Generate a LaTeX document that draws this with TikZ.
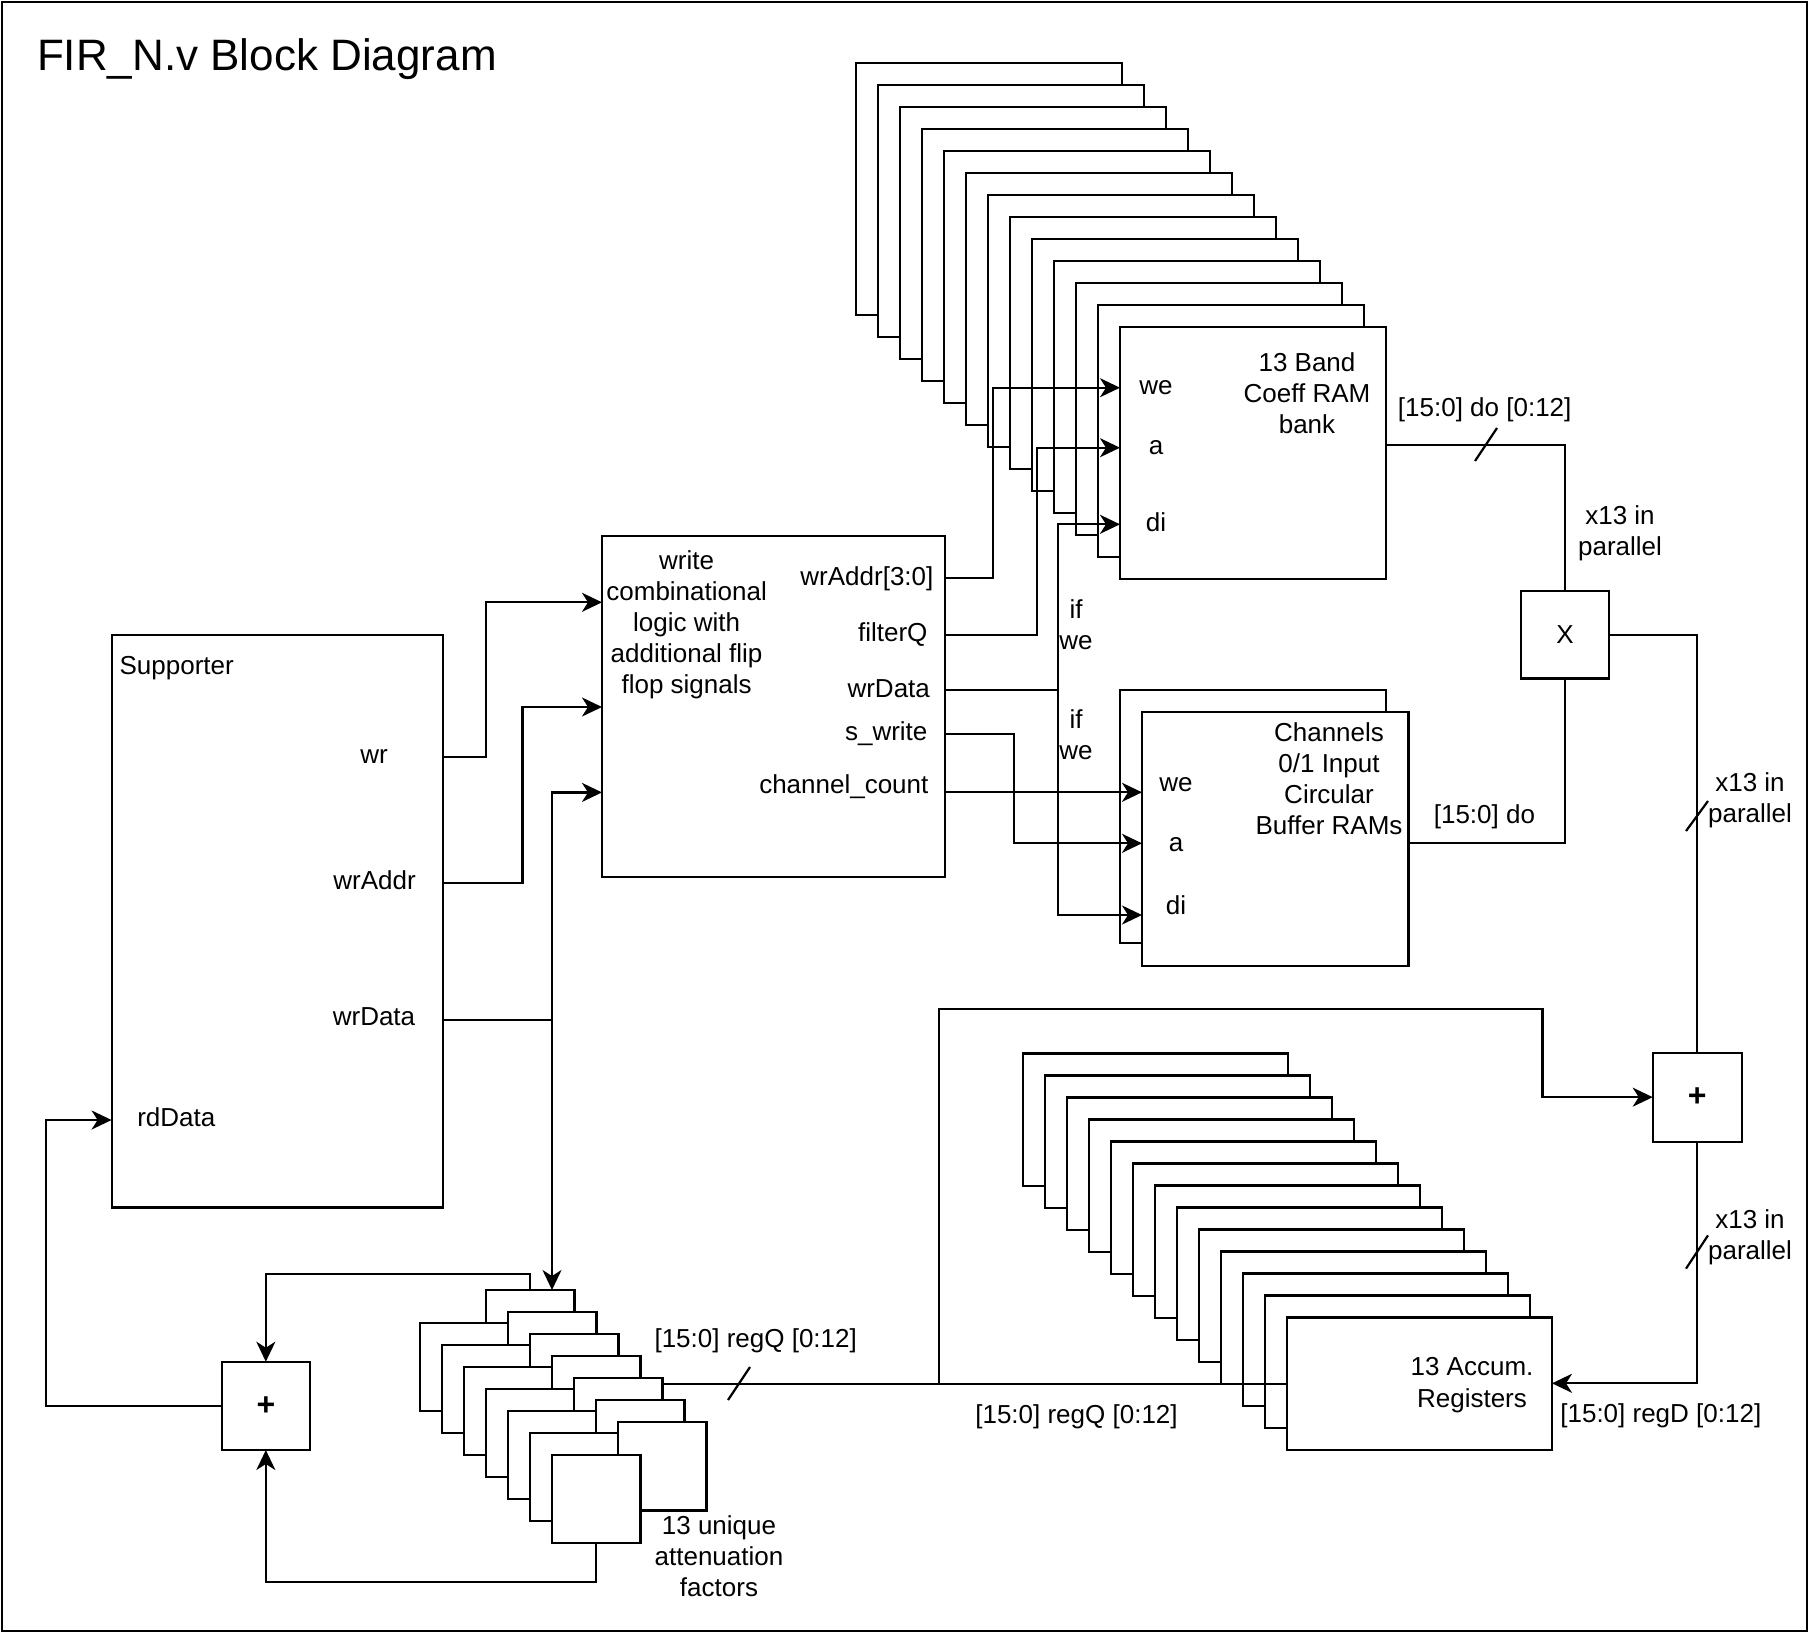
\documentclass[tikz,border=0pt]{standalone}
\usepackage{fontspec}
\setmainfont{Liberation Sans}
\usetikzlibrary{arrows.meta,fit}
\begin{document}
\begin{tikzpicture}[x=0.5pt,y=-0.5pt,line width=1.1pt,
  blk/.style={draw,fill=white,inner sep=0pt,outer sep=0pt},
  arr/.style={-{Stealth[length=10pt,width=9.5pt,inset=3pt]}},
  lbl/.style={font=\fontsize{13}{15.6}\selectfont,inner sep=0pt,text height=9.4pt,text depth=2.6pt},
  mlbl/.style={font=\fontsize{13}{15.6}\selectfont,inner sep=0pt,align=center},
  sym/.style={font=\fontsize{13}{15.6}\selectfont},
  bsym/.style={font=\fontsize{16}{18}\selectfont\bfseries}]
\useasboundingbox (0,0) rectangle (1810,1634);
\node[draw,fit={(2,2) (1807,1631)},inner sep=0pt,outer sep=0pt] (border) {};
\node[font=\fontsize{22}{26}\selectfont,anchor=base west,inner sep=0pt] (title) at (36,70) {FIR\_N.v Block Diagram};

% coefficient RAM stack
\foreach \i in {0,...,11} {
  \node[blk,fit={({856+22*\i},{63+22*\i}) ({1122+22*\i},{315+22*\i})}] (cf\i) {};
}
\node[blk,fit={(1120,327) (1386,579)}] (coeff) {};

% channel buffer RAMs
\node[blk,fit={(1120,690) (1386,943)}] (chb) {};
\node[blk,fit={(1142,712) (1408.5,966)}] (chan) {};

% accumulator stack
\foreach \i in {0,...,11} {
  \node[blk,fit={({1023+22*\i},{1053.5+22*\i}) ({1288+22*\i},{1186+22*\i})}] (ac\i) {};
}
\node[blk,fit={(1287,1317.5) (1552,1450)}] (acc) {};

% attenuation factors stack
\foreach \k in {0,...,6} {
  \node[blk,fit={({486+22*\k},{1290+22*\k}) ({574.5+22*\k},{1378.5+22*\k})}] (atA\k) {};
  \node[blk,fit={({420+22*\k},{1322.7+22*\k}) ({508.5+22*\k},{1411.2+22*\k})}] (atB\k) {};
}

% main blocks
\node[blk,fit={(111.6,635) (442.6,1207.4)}] (sup) {};
\node[blk,fit={(602,535.7) (944.7,877.3)}] (wl) {};
\node[blk,fit={(1520.7,591) (1609.3,678.4)}] (mul) {};
\node[blk,fit={(1652.7,1052.7) (1741.7,1141.6)}] (add) {};
\node[blk,fit={(221.7,1361.7) (310,1450)}] (add2) {};
\node[sym] (mulx) at (mul.center) {X};
\node[bsym] (addp) at (add.center) {+};
\node[bsym] (add2p) at (add2.center) {+};

% labels
\node[lbl,anchor=west] (lsup) at (118.5,668) {Supporter};
\node[lbl] (lwr) at (374,756.6) {wr};
\node[lbl] (lwra) at (374.5,883) {wrAddr};
\node[lbl] (lwrd) at (374,1019) {wrData};
\node[lbl] (lrd) at (176.3,1120) {rdData};
\node[mlbl] (lwl) at (686.6,624.7) {write\\combinational\\logic with\\additional flip\\flop signals};
\node[lbl,anchor=east] (lo1) at (934.5,578.5) {wrAddr[3:0]};
\node[lbl,anchor=east] (lo2) at (928.5,635) {filterQ};
\node[lbl,anchor=east] (lo3) at (931,690.5) {wrData};
\node[lbl,anchor=east] (lo4) at (928.5,734) {s\_write};
\node[lbl,anchor=east] (lo5) at (929.5,787) {channel\_count};
\node[mlbl] (lcf) at (1307,393) {13 Band\\Coeff RAM\\bank};
\node[lbl] (lcwe) at (1156,387.7) {we};
\node[lbl] (lca) at (1156,447.7) {a};
\node[lbl] (lcdi) at (1156,524.3) {di};
\node[mlbl] (lch) at (1329,778.5) {Channels\\0/1 Input\\Circular\\Buffer RAMs};
\node[lbl] (lhwe) at (1176,785) {we};
\node[lbl] (lha) at (1176,845) {a};
\node[lbl] (lhdi) at (1176,908) {di};
\node[mlbl] (lif1) at (1076,624.5) {if\\we};
\node[mlbl] (lif2) at (1076,734.5) {if\\we};
\node[lbl] (ldo1) at (1484.7,410) {[15:0] do [0:12]};
\node[mlbl] (lpar1) at (1620,533) {x13 in\\parallel};
\node[lbl] (ldo2) at (1484.4,816.5) {[15:0] do};
\node[mlbl] (lpar2) at (1750,800) {x13 in\\parallel};
\node[mlbl] (lpar3) at (1750,1237) {x13 in\\parallel};
\node[mlbl] (lacc) at (1472,1385) {13 Accum.\\Registers};
\node[lbl] (lrgd) at (1660.8,1415.7) {[15:0] regD [0:12]};
\node[lbl] (lrq2) at (1076.5,1416.7) {[15:0] regQ [0:12]};
\node[lbl] (lrq1) at (755.7,1340.7) {[15:0] regQ [0:12]};
\node[mlbl] (latt) at (719,1556) {13 unique\\attenuation\\factors};

% Supporter -> write logic
\draw[arr] (sup.east |- 0,756.6) -| (486,602.3) -- (wl.west |- 0,602.3);
\draw[arr] (sup.east |- 0,882.8) -| (522.5,707) -- (wl.west |- 0,707);
\draw (sup.east |- 0,1020) -- (552,1020) coordinate (jd);
\draw[arr] (jd) |- (wl.west |- 0,792.4);
\draw[arr] (jd) -- (jd |- atA0.north);

% attenuation -> adder -> rdData
\draw[arr] (atA0.north) -- ++(0,-16) -| (add2.north);
\draw[arr] (atB6.south) -- ++(0,38.5) -| (add2.south);
\draw[arr] (add2.west) -| (46,1120) -- (sup.west |- 0,1120);

% regQ bus
\draw (atA4.east |- 0,1384) -- (acc.west |- 0,1384);
\coordinate (jq) at (939,1384);
\draw[arr] (jq) |- (1542.5,1009.3) |- (add.west);
\draw[arr] (add.south) |- (acc.east |- 0,1383.3);
\draw (mul.east) -| (add.north);
\draw (coeff.east |- 0,445) -| (mul.north);
\draw (chan.east |- 0,843.3) -| (mul.south);

% write logic -> RAMs
\draw[arr] (wl.east |- 0,577.7) -| (992.7,387.7) -- (coeff.west |- 0,387.7);
\draw[arr] (wl.east |- 0,635) -| (1037.3,447.7) -- (coeff.west |- 0,447.7);
\draw (wl.east |- 0,690.3) -- (1058.3,690.3) coordinate (jw);
\draw[arr] (jw) |- (coeff.west |- 0,524.3);
\draw[arr] (jw) |- (chan.west |- 0,915);
\draw[arr] (wl.east |- 0,734) -| (1014,843.3) -- (chan.west |- 0,843.3);
\draw[arr] (wl.east |- 0,792.3) -- (chan.west |- 0,792.3);

% bus slashes
\draw (1475,461) -- (1497,428);
\draw (1686,831) -- (1708,801);
\draw (1686,1268.6) -- (1708,1235.4);
\draw (728,1400) -- (750,1367);
\end{tikzpicture}
\end{document}
